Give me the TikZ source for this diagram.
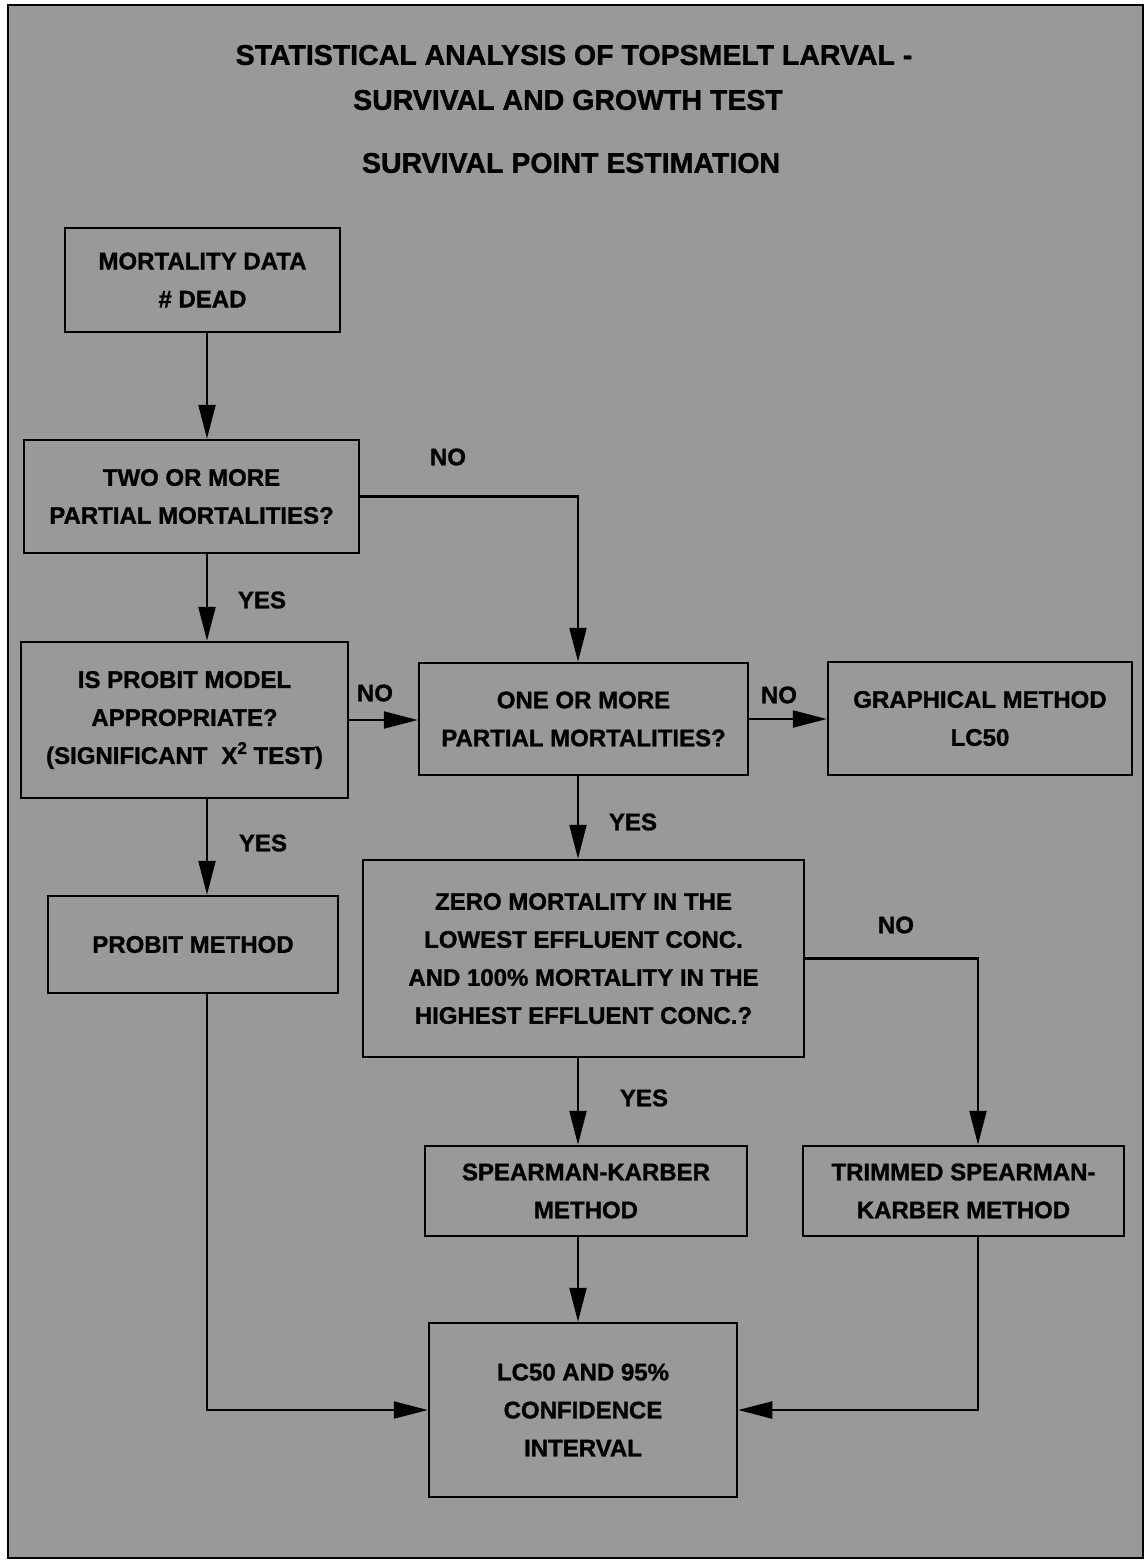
\documentclass[tikz,border=0pt]{standalone}
\usepackage{fontspec}
\setmainfont{Liberation Sans}[BoldFeatures={FakeBold=1.2}]
\usetikzlibrary{arrows.meta,calc}
\definecolor{bg}{gray}{0.6}
\begin{document}
\begin{tikzpicture}[x=1pt,y=-1pt,
  box/.style={draw=black,line width=2.5pt,inner sep=0pt,align=center,font=\bfseries\fontsize{24}{38}\selectfont},
  lbl/.style={font=\bfseries\fontsize{24}{28}\selectfont,inner sep=0pt},
  ttl/.style={font=\bfseries\fontsize{28.5}{34}\selectfont,inner sep=0pt},
  arr/.style={line width=2.2pt,-{Triangle[length=34pt,width=17pt]}}]
\useasboundingbox (0,0) rectangle (1148,1561);
\fill[white] (0,0) rectangle (1148,1561);
\draw[fill=bg,line width=1.5pt] (8,5) rectangle (1143,1558);

\coordinate (xL) at (207,0);
\coordinate (xM) at (578,0);
\coordinate (xR) at (978,0);

\node[ttl] (t1) at (574,55) {STATISTICAL ANALYSIS OF TOPSMELT LARVAL -};
\node[ttl] (t2) at (568,100) {SURVIVAL AND GROWTH TEST};
\node[ttl] (t3) at (571,163) {SURVIVAL POINT ESTIMATION};

\node[box,minimum width=275pt,minimum height=104pt] (b1) at (202.5,280) {MORTALITY DATA\\\# DEAD};
\node[box,minimum width=335pt,minimum height=113pt] (b2) at (191.5,496.5) {TWO OR MORE\\PARTIAL MORTALITIES?};
\node[box,minimum width=327pt,minimum height=156pt] (b3) at (184.5,720) {IS PROBIT MODEL\\APPROPRIATE?\\(SIGNIFICANT\hspace{14pt}X{\fontsize{17}{17}\selectfont\raisebox{10pt}{2}} TEST)};
\node[box,minimum width=329pt,minimum height=112pt] (b4) at (583.5,719) {ONE OR MORE\\PARTIAL MORTALITIES?};
\node[box,minimum width=304pt,minimum height=113pt] (b5) at (980,718.5) {GRAPHICAL METHOD\\LC50};
\node[box,minimum width=290pt,minimum height=97pt] (b6) at (193,944.5) {PROBIT METHOD};
\node[box,minimum width=441pt,minimum height=197pt] (b7) at (583.5,958.5) {ZERO MORTALITY IN THE\\LOWEST EFFLUENT CONC.\\AND 100\% MORTALITY IN THE\\HIGHEST EFFLUENT CONC.?};
\node[box,minimum width=322pt,minimum height=90pt] (b8) at (586,1191) {SPEARMAN-KARBER\\METHOD};
\node[box,minimum width=321pt,minimum height=90pt] (b9) at (963.5,1191) {TRIMMED SPEARMAN-\\KARBER METHOD};
\node[box,minimum width=308pt,minimum height=174pt] (b10) at (583,1410) {LC50 AND 95\%\\CONFIDENCE\\INTERVAL};

\draw[arr] (b1.south -| xL) -- (b2.north -| xL);
\draw[arr] (b2.south -| xL) -- (b3.north -| xL);
\draw[arr] (b2.east) -| (b4.north -| xM);
\draw[arr] (b3.east) -- (b4.west |- b3.east);
\draw[arr] (b4.east) -- (b5.west |- b4.east);
\draw[arr] (b3.south -| xL) -- (b6.north -| xL);
\draw[arr] (b4.south -| xM) -- (b7.north -| xM);
\draw[arr] (b6.south -| xL) |- (b10.west);
\draw[arr] (b7.south -| xM) -- (b8.north -| xM);
\draw[arr] (b7.east) -| (b9.north -| xR);
\draw[arr] (b8.south -| xM) -- (b10.north -| xM);
\draw[arr] (b9.south -| xR) |- (b10.east);

\node[lbl] (n1) at (448,457) {NO};
\node[lbl] (y1) at (262,600) {YES};
\node[lbl] (n2) at (375,693) {NO};
\node[lbl] (n3) at (779,695) {NO};
\node[lbl] (y2) at (263,843) {YES};
\node[lbl] (y3) at (633,822) {YES};
\node[lbl] (n4) at (896,925) {NO};
\node[lbl] (y4) at (644,1098) {YES};
\end{tikzpicture}
\end{document}
